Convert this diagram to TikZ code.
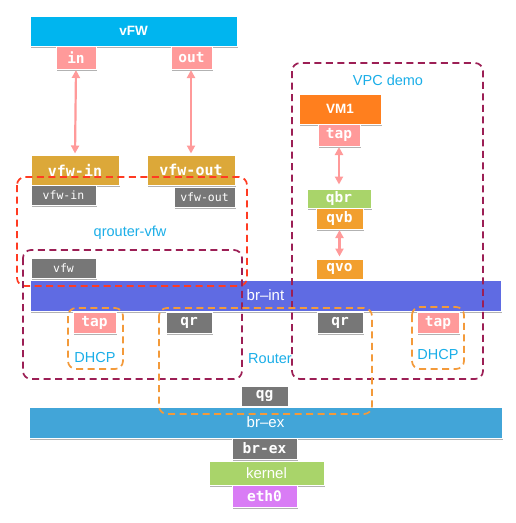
\documentclass[tikz,border=0pt]{standalone}
\usepackage{fontspec}
\setmainfont{Liberation Sans}
\newfontfamily\monof{DejaVu Sans Mono}
\usetikzlibrary{shadows,arrows.meta}
\definecolor{cvfw}{HTML}{00B5EF}
\definecolor{cpink}{HTML}{FF9A9A}
\definecolor{cgold}{HTML}{DCA839}
\definecolor{cgray}{HTML}{777777}
\definecolor{cbrint}{HTML}{5F6BE3}
\definecolor{cbrex}{HTML}{42A5D8}
\definecolor{cvm}{HTML}{FF7F1E}
\definecolor{corg}{HTML}{F29F2E}
\definecolor{cgreen}{HTML}{A9D46A}
\definecolor{cpurp}{HTML}{D97CF5}
\definecolor{cred}{HTML}{FF3B22}
\definecolor{cmar}{HTML}{9C1F55}
\definecolor{cdor}{HTML}{F39A3A}
\definecolor{ctxt}{HTML}{1AAEE8}
\tikzset{
  blk/.style={draw=white, line width=0.8pt, text=white, inner sep=0pt, outer sep=0pt,
    drop shadow={shadow xshift=0.6pt, shadow yshift=-1.6pt, fill=black, opacity=0.3}},
  mono/.style={font=\monof\bfseries\fontsize{14.5}{15}\selectfont},
  monos/.style={font=\monof\fontsize{11.5}{12}\selectfont},
  sans/.style={font=\fontsize{15}{15}\selectfont},
  sansb/.style={font=\bfseries\fontsize{13.5}{14}\selectfont},
  lbl/.style={text=ctxt, font=\fontsize{14.5}{15}\selectfont, inner sep=0pt},
  grp/.style={rounded corners=8pt, line width=1.7pt, dash pattern=on 7pt off 4.5pt},
  link/.style={draw=cpink, line width=2.2pt, {Triangle[width=8pt,length=8pt]}-{Triangle[width=8pt,length=8pt]}, shorten <=1pt, shorten >=1.5pt}
}
\newcommand{\bx}[7]{\node[blk, #6, minimum width={(#4-#2)*1pt}, minimum height={(#5-#3)*1pt}] (#1) at ({(#2+#4)/2},{(#3+#5)/2}) {#7};}
\begin{document}
\begin{tikzpicture}[x=1pt,y=-1pt]
\useasboundingbox[fill=white] (0,0) rectangle (516,523);
% top VNF
\bx{vfw}{30}{16}{237}{46}{fill=cvfw,sansb}{vFW}
\bx{in}{56}{46}{96}{69}{fill=cpink,mono}{in}
\bx{out}{171}{46}{212}{69}{fill=cpink,mono}{out}
\bx{vfwin}{31}{155}{119}{185}{fill=cgold,font=\monof\bfseries\fontsize{15}{15}\selectfont}{vfw-in}
\bx{vfwout}{147}{155}{235}{185}{fill=cgold,font=\monof\bfseries\fontsize{15}{15}\selectfont}{vfw-out}
\bx{gvfwin}{31}{185}{96}{205}{fill=cgray,monos}{vfw-in}
\bx{gvfwout}{174}{187}{235}{207}{fill=cgray,monos}{vfw-out}
\bx{gvfw}{31}{258}{96}{278}{fill=cgray,monos}{vfw}
% VM1 side
\bx{vm}{299}{94}{381}{124}{fill=cvm,sansb}{VM1}
\bx{vmtap}{318}{124}{360}{146}{fill=cpink,mono}{tap}
\bx{qbr}{307}{189}{371}{208}{fill=cgreen,mono}{qbr}
\bx{qvb}{316}{208}{363}{229}{fill=corg,mono}{qvb}
\bx{qvo}{316}{259}{363}{279}{fill=corg,mono}{qvo}
% br-int
\bx{brint}{30}{280}{501}{311}{fill=cbrint,sans}{br–int}
\bx{tapl}{73}{312}{116}{333}{fill=cpink,mono}{tap}
\bx{qrl}{166}{312}{212}{333}{fill=cgray,mono}{qr}
\bx{qrr}{317}{312}{363}{333}{fill=cgray,mono}{qr}
\bx{tapr}{417}{312}{459}{333}{fill=cpink,mono}{tap}
% br-ex
\bx{qg}{241}{386}{288}{406}{fill=cgray,mono}{qg}
\bx{brex}{29}{407}{502}{438}{fill=cbrex,sans}{br–ex}
\bx{gbrex}{232}{438}{297}{459}{fill=cgray,mono}{br-ex}
\bx{kernel}{209}{461}{324}{485}{fill=cgreen,sans}{kernel}
\bx{eth}{232}{485}{297}{507}{fill=cpurp,mono}{eth0}
% links
\draw[link] (in.south) -- (vfwin.north);
\draw[link] (out.south -| vfwout.north) -- (vfwout.north);
\draw[link] (vmtap.south) -- ([yshift=3pt]qbr.north);
\draw[link] (qvb.south) -- ([yshift=1pt]qvo.north);
% groups
\draw[grp, draw=cred] (17,177) rectangle (247,286);
\draw[grp, draw=cmar] (23,250) rectangle (242,379);
\draw[grp, draw=cmar] (292,63) rectangle (483,379);
\draw[grp, draw=cdor] (68,308) rectangle (123,369);
\draw[grp, draw=cdor] (412,307) rectangle (464,369);
\draw[grp, draw=cdor] (159,308) rectangle (372,414);
% labels
\node[lbl] (lqr) at (130,233) {qrouter-vfw};
\node[lbl] (lvpc) at (388,80) {VPC demo};
\node[lbl] (ldhl) at (95,358) {DHCP};
\node[lbl] (ldhr) at (438,355) {DHCP};
\node[lbl] (lrt) at (270,359) {Router};
\end{tikzpicture}
\end{document}
